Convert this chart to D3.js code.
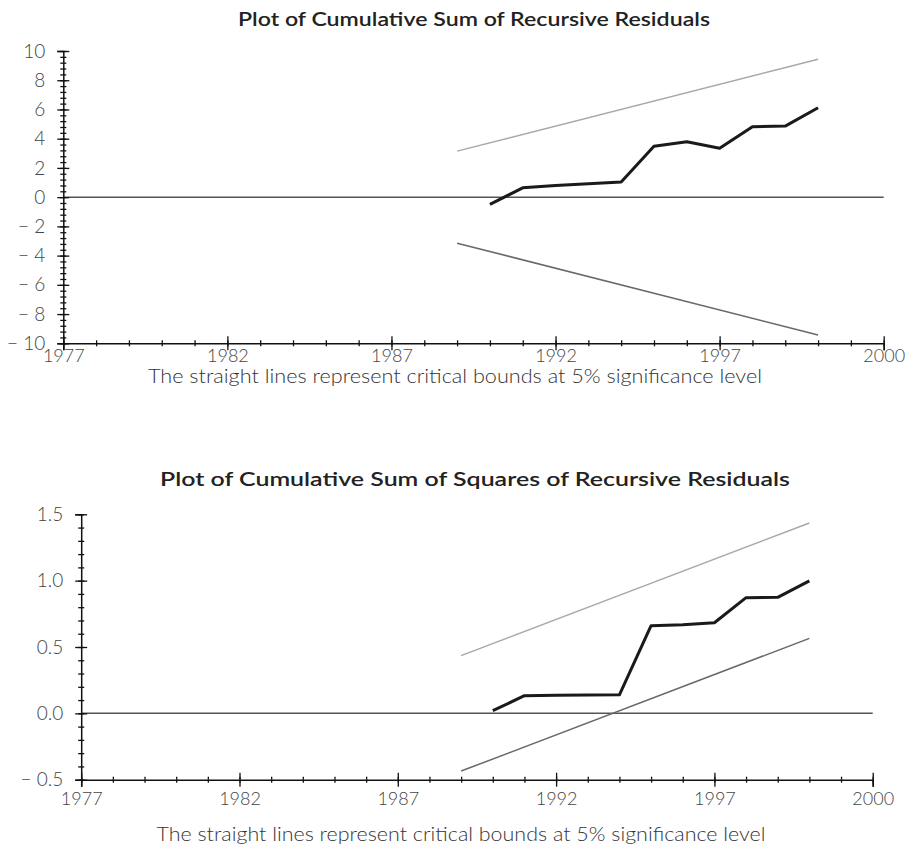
<!DOCTYPE html>
<html>
<head>
<meta charset="utf-8">
<script src="https://cdn.jsdelivr.net/npm/d3@7"></script>
<style>
  body { margin: 0; background: #fff; }
  svg text { font-family: Lato, "Open Sans", sans-serif; }
  .tick text { fill: #444; font-weight: 300; }
</style>
</head>
<body>
<svg id="chart" width="908" height="850"></svg>
<script>
// observation years of the recursive statistics
var obsYears = [1990, 1991, 1992, 1993, 1994, 1995, 1996, 1997, 1998, 1999, 2000];
var cusumValues = [-0.5, 0.64, 0.8, 0.92, 1.03, 3.49, 3.79, 3.34, 4.82, 4.86, 6.12];
var cusumsqValues = [0.02, 0.133, 0.137, 0.138, 0.14, 0.661, 0.667, 0.683, 0.872, 0.874, 0.998];

// critical bounds (straight lines), start and end
var boundYears = [1989, 2000];
var cusumUpper = [3.15, 9.43];
var cusumLower = [-3.15, -9.43];
var sqUpper = [0.435, 1.435];
var sqLower = [-0.435, 0.565];

// x axis ticks
var xTickValues = [1977, 1982, 1987, 1992, 1997, 2002];
var xTickLabels = ["1977", "1982", "1987", "1992", "1997", "2000"];

var titles = ["Plot of Cumulative Sum of Recursive Residuals",
              "Plot of Cumulative Sum of Squares of Recursive Residuals"];
var caption = "The straight lines represent critical bounds at 5% significance level";

var svg = d3.select("#chart");

function minusFmt(f) {
    return function(d) {
        var s = f(Math.abs(d));
        return d < -1e-9 ? "\u2212 " + s : s;
    };
}

function drawPanel(opt) {
    var x = d3.scaleLinear().domain([1977, 2002]).range([opt.left, opt.right]);
    var y = d3.scaleLinear().domain(opt.yDomain).range([opt.bottom, opt.top]);

    var g = svg.append("g");

    // zero line
    g.append("line")
        .attr("x1", x(1977)).attr("x2", x(2002))
        .attr("y1", y(0)).attr("y2", y(0))
        .attr("stroke", "#555").attr("stroke-width", 1.5);

    // bounds
    var upper = boundYears.map(function(d, i) { return {x: d, y: opt.upper[i]}; });
    var lower = boundYears.map(function(d, i) { return {x: d, y: opt.lower[i]}; });
    var line = d3.line().x(function(d) { return x(d.x); }).y(function(d) { return y(d.y); });

    g.append("path").datum(upper).attr("d", line)
        .attr("fill", "none").attr("stroke", "#a8a8a8").attr("stroke-width", 1.5);
    g.append("path").datum(lower).attr("d", line)
        .attr("fill", "none").attr("stroke", "#686868").attr("stroke-width", 1.5);

    var series = obsYears.map(function(d, i) { return {x: d, y: opt.values[i]}; });
    g.append("path").datum(series).attr("d", line)
        .attr("fill", "none").attr("stroke", "#1a1a1a").attr("stroke-width", 3)
        .attr("stroke-linejoin", "round");

    // y axis: minor ticks both sides
    var yMinor = d3.range(opt.yDomain[0], opt.yDomain[1] + 1e-6, opt.yMinorStep);
    [3, -3].forEach(function(s) {
        g.append("g").attr("transform", "translate(" + opt.left + ",0)")
            .call(d3.axisLeft(y).tickValues(yMinor).tickSize(s).tickFormat(""))
            .call(function(a) { a.select(".domain").remove(); });
    });
    g.append("g").attr("transform", "translate(" + opt.left + ",0)")
        .call(d3.axisLeft(y).tickValues(opt.yTicks).tickSize(-6).tickFormat(""))
        .call(function(a) { a.select(".domain").remove(); });
    var yAx = g.append("g").attr("transform", "translate(" + opt.left + ",0)")
        .call(d3.axisLeft(y).tickValues(opt.yTicks).tickSize(6).tickPadding(12)
            .tickFormat(minusFmt(opt.yFormat)));
    yAx.selectAll("text").style("font-size", "19px");

    // x axis
    var xMinor = d3.range(1977, 2002.5, 1);
    [3, -3].forEach(function(s) {
        g.append("g").attr("transform", "translate(0," + opt.bottom + ")")
            .call(d3.axisBottom(x).tickValues(xMinor).tickSize(s).tickFormat(""))
            .call(function(a) { a.select(".domain").remove(); });
    });
    g.append("g").attr("transform", "translate(0," + opt.bottom + ")")
        .call(d3.axisBottom(x).tickValues(xTickValues).tickSize(-7).tickFormat(""))
        .call(function(a) { a.select(".domain").remove(); });
    var xAx = g.append("g").attr("transform", "translate(0," + opt.bottom + ")")
        .call(d3.axisBottom(x).tickValues(xTickValues).tickSize(7).tickPadding(opt.xPad)
            .tickFormat(function(d, i) { return xTickLabels[i]; }));
    xAx.selectAll("text").style("font-size", "18px");

    svg.selectAll(".domain").attr("stroke", "#111").attr("stroke-width", 1.5);
    svg.selectAll(".tick line").attr("stroke", "#111").attr("stroke-width", 1.3);

    // title & caption
    svg.append("text").attr("x", opt.titleX).attr("y", opt.titleY)
        .attr("text-anchor", "middle").style("font-size", "20px")
        .attr("textLength", opt.titleW).attr("lengthAdjust", "spacingAndGlyphs")
        .style("font-weight", 600).attr("fill", "#222").text(opt.title);
    svg.append("text").attr("x", opt.capX).attr("y", opt.capY)
        .attr("text-anchor", "middle").style("font-size", "19px")
        .attr("textLength", opt.capW).attr("lengthAdjust", "spacingAndGlyphs")
        .style("font-weight", 300).attr("fill", "#333").text(caption);
}

drawPanel({
    left: 63.3, right: 883.7, top: 51, bottom: 343.3,
    yDomain: [-10, 10], yTicks: d3.range(-10, 10.1, 2), yMinorStep: 0.4,
    yFormat: d3.format("d"), xPad: -1,
    values: cusumValues, upper: cusumUpper, lower: cusumLower,
    title: titles[0], titleX: 474, titleY: 26, titleW: 472,
    capX: 455, capY: 383, capW: 614
});

drawPanel({
    left: 81.2, right: 872.7, top: 514.3, bottom: 779.7,
    yDomain: [-0.5, 1.5], yTicks: [-0.5, 0, 0.5, 1.0, 1.5], yMinorStep: 0.1,
    yFormat: d3.format(".1f"), xPad: 6,
    values: cusumsqValues, upper: sqUpper, lower: sqLower,
    title: titles[1], titleX: 475, titleY: 486, titleW: 630,
    capX: 461, capY: 841, capW: 609
});
</script>
</body>
</html>
